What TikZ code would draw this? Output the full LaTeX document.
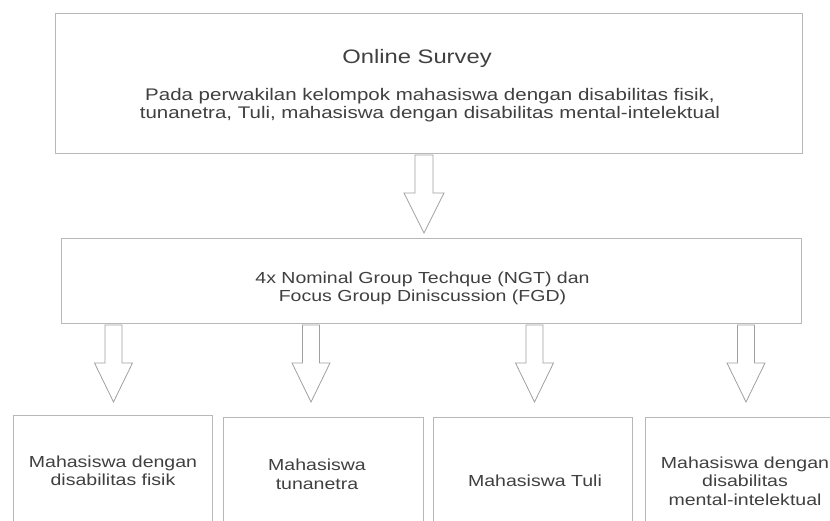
\documentclass[tikz,border=0pt]{standalone}
\usepackage{fontspec}
\setmainfont{Liberation Sans}
\newfontfamily\diafont[FakeStretch=1.22]{Liberation Sans}
\usetikzlibrary{calc}
\definecolor{txt}{HTML}{404040}
\definecolor{edge}{HTML}{B8B8B8}
\definecolor{arrowedge}{HTML}{A0A0A0}
\newcommand{\hollowarrow}[6]{% x, ytop, yhead, ytip, halfshaft, halfhead
  \draw[arrowline] (#1-#5,#2) -- (#1+#5,#2) -- (#1+#5,#3) -- (#1+#6,#3) -- (#1,#4) -- (#1-#6,#3) -- (#1-#5,#3) -- cycle;}
\begin{document}
\begin{tikzpicture}[x=1pt,y=1pt,
  boxnode/.style={draw=edge, line width=0.9pt, inner sep=0pt, fill=white},
  bodytext/.style={font=\diafont\fontsize{16}{18.5}\selectfont, text=txt, align=center, inner sep=0pt},
  titletext/.style={font=\diafont\fontsize{19.5}{22}\selectfont, text=txt, inner sep=0pt},
  arrowline/.style={draw=arrowedge, line width=0.8pt, line join=miter, fill=white}]
\useasboundingbox (0,0) rectangle (830,521);
\fill[white] (0,0) rectangle (830,521);
\clip (0,0) rectangle (830,521);

% top box
\node[boxnode, minimum width=747pt, minimum height=140pt] (survey) at (428.5,438) {};
\node[titletext] (surveytitle) at (417,462.5) {Online Survey};
\node[bodytext, font=\diafont\fontsize{16.8}{18.5}\selectfont] (surveydesc) at (430,416) {Pada perwakilan kelompok mahasiswa dengan disabilitas fisik,\\tunanetra, Tuli, mahasiswa dengan disabilitas mental-intelektual};

% second box
\node[boxnode, minimum width=740pt, minimum height=85pt] (ngt) at (431,240.5) {};
\node[bodytext] (ngttext) at (422.5,232.5) {4x Nominal Group Techque (NGT) dan\\Focus Group Diniscussion (FGD)};

% arrow survey -> ngt
\hollowarrow{424}{366}{328}{288}{9}{20}

% lower arrows
\hollowarrow{113.5}{196}{158}{119}{8.5}{19}
\hollowarrow{311}{196}{158}{119}{8.5}{19}
\hollowarrow{534.5}{196}{158}{119}{8.5}{19}
\hollowarrow{746}{196}{158}{119}{8.5}{19}

% lower boxes
\node[boxnode, minimum width=199pt, minimum height=126pt] (g1) at (112.5,43) {};
\node[boxnode, minimum width=200pt, minimum height=124pt] (g2) at (323,42) {};
\node[boxnode, minimum width=199pt, minimum height=124pt] (g3) at (532.5,42) {};
\node[boxnode, minimum width=215pt, minimum height=124pt] (g4) at (752.5,42) {};

\node[bodytext] (g1text) at (113,50) {Mahasiswa dengan\\disabilitas fisik};
\node[bodytext] (g2text) at (317,46.5) {Mahasiswa\\tunanetra};
\node[bodytext] (g3text) at (535,40) {Mahasiswa Tuli};
\node[bodytext] (g4text) at (745,40) {Mahasiswa dengan\\disabilitas\\mental-intelektual};
\end{tikzpicture}
\end{document}
